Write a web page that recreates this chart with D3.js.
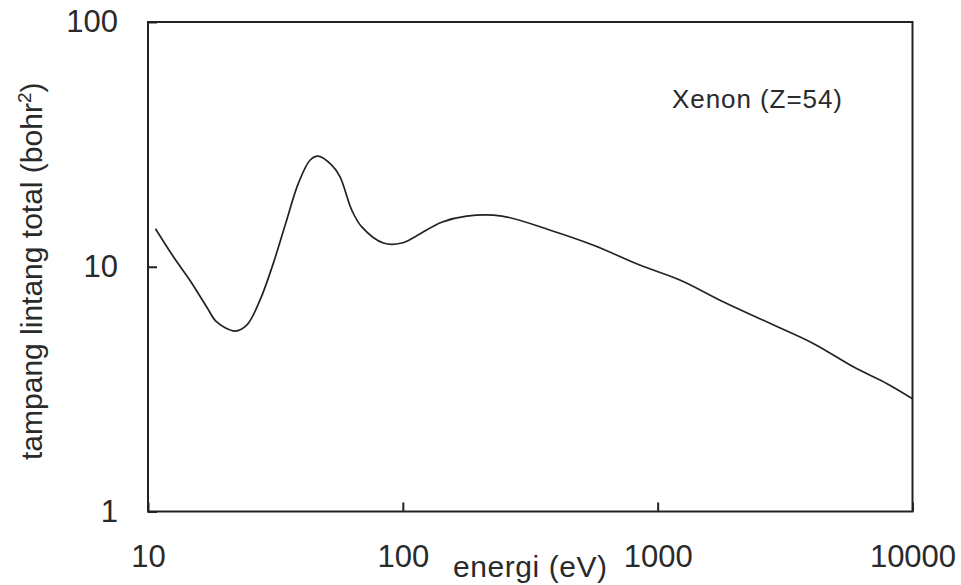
<!DOCTYPE html>
<html>
<head>
<meta charset="utf-8">
<script src="https://cdn.jsdelivr.net/npm/d3@7/dist/d3.min.js"></script>
<style>
  html, body { margin: 0; padding: 0; background: #fff; }
  svg { display: block; font-family: "Liberation Sans", Arial, sans-serif; }
</style>
</head>
<body>
<svg id="chart" width="961" height="585"></svg>
<script>
// Energy (eV)
const energy = [10.7, 12.6, 14.6, 17.0, 18.6, 21.96, 24.4, 27.5, 31.0, 35.0, 38.9, 43.3, 46.6, 52.6, 56.7, 63.1, 69.0, 83.9, 99.1, 113.5, 142, 178, 245, 379, 560, 855, 1228, 1815, 2770, 4095, 5880, 7945, 10000];
// Total cross section (bohr^2)
const sigma = [14.3, 10.96, 8.81, 6.85, 5.95, 5.46, 5.77, 7.30, 10.3, 15.5, 21.9, 27.3, 28.3, 26.0, 23.3, 17.0, 14.55, 12.5, 12.5, 13.4, 15.2, 16.1, 16.1, 14.1, 12.24, 10.14, 8.81, 7.18, 5.86, 4.85, 3.89, 3.33, 2.89];
const xTicks = [10, 100, 1000, 10000];
const yTicks = [1, 10, 100];
const xTitle = "energi (eV)";
const yTitle = "tampang lintang total (bohr";
const seriesLabel = "Xenon (Z=54)";

const svg = d3.select("#chart");
const pLeft = 148, pRight = 912.5, pTop = 22, pBottom = 511.5;
const x = d3.scaleLog().domain([10, 10000]).range([pLeft, pRight]);
const y = d3.scaleLog().domain([1, 100]).range([pBottom, pTop]);
const ink = "#222";
const textInk = "#2a2a2a";

// frame
svg.append("rect")
  .attr("x", pLeft).attr("y", pTop)
  .attr("width", pRight - pLeft).attr("height", pBottom - pTop)
  .attr("fill", "none").attr("stroke", ink).attr("stroke-width", 2);

// x axis
const gx = svg.append("g").attr("transform", `translate(0,${pBottom})`)
  .call(d3.axisBottom(x).tickValues(xTicks).tickSizeInner(-9).tickSizeOuter(0).tickPadding(33).tickFormat(d3.format("d")));
gx.select(".domain").remove();
gx.attr("font-family", null).attr("font-size", null);
gx.selectAll(".tick line").attr("stroke", ink).attr("stroke-width", 2);
gx.selectAll(".tick text").attr("fill", textInk).attr("font-size", 31);

// y axis
const gy = svg.append("g").attr("transform", `translate(${pLeft},0)`)
  .call(d3.axisLeft(y).tickValues(yTicks).tickSizeInner(-9).tickSizeOuter(0).tickPadding(30).tickFormat(d3.format("d")));
gy.select(".domain").remove();
gy.attr("font-family", null).attr("font-size", null);
gy.selectAll(".tick line").attr("stroke", ink).attr("stroke-width", 2);
gy.selectAll(".tick text").attr("fill", textInk).attr("font-size", 31);

// curve
const data = energy.map((e, i) => [e, sigma[i]]);
svg.append("path")
  .datum(data)
  .attr("fill", "none")
  .attr("stroke", ink)
  .attr("stroke-width", 1.7)
  .attr("d", d3.line().x(d => x(d[0])).y(d => y(d[1])).curve(d3.curveCatmullRom.alpha(0.5)));

// x title
svg.append("text")
  .attr("x", 453).attr("y", 577)
  .attr("font-size", 30).attr("fill", textInk)
  .attr("textLength", 154).attr("lengthAdjust", "spacing")
  .text(xTitle);

// y title
const yt = svg.append("text")
  .attr("transform", "translate(42,460) rotate(-90)")
  .attr("font-size", 30).attr("fill", textInk);
yt.append("tspan").text(yTitle);
yt.append("tspan").attr("font-size", 19).attr("dy", -11).text("2");
yt.append("tspan").attr("dy", 11).text(")");

// series label
svg.append("text")
  .attr("x", 672).attr("y", 108)
  .attr("font-size", 26).attr("fill", textInk)
  .attr("textLength", 170).attr("lengthAdjust", "spacing")
  .text(seriesLabel);
</script>
</body>
</html>
